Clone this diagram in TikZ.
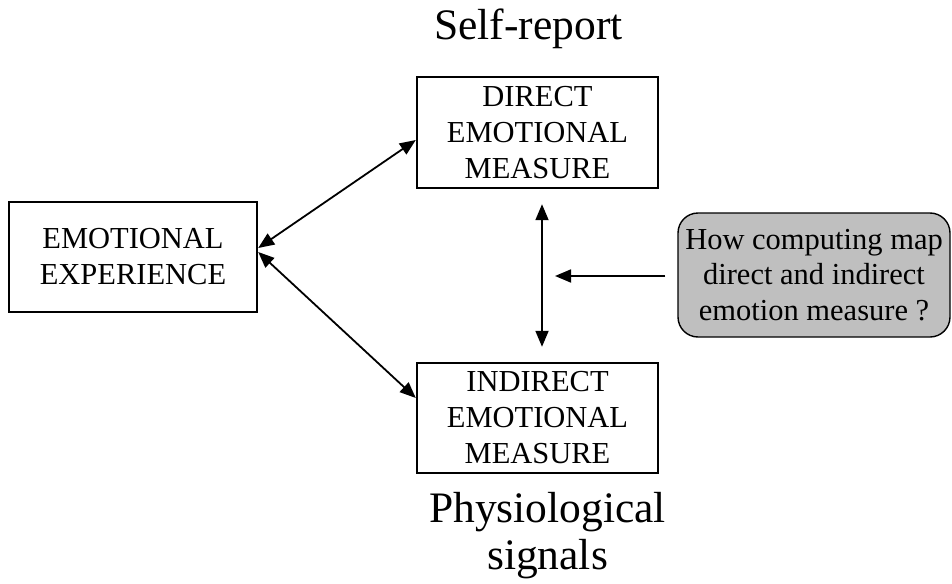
\documentclass[tikz,border=0pt]{standalone}
\usepackage{fontspec}
\setmainfont{Liberation Serif}
\usetikzlibrary{arrows.meta,calc}

\tikzset{
  box/.style={draw, line width=2.4pt, rectangle, align=center, inner sep=0pt,
              font=\fontsize{30.5}{36}\selectfont},
  askbox/.style={draw, line width=1.4pt, fill=black!25, rounded corners=20pt,
                 align=center, inner sep=0pt, font=\fontsize{30.5}{35.5}\selectfont},
  caption/.style={align=center, inner sep=0pt, font=\fontsize{43.5}{47}\selectfont},
  tip/.style={Triangle[length=16pt,width=13pt]},
  link/.style={line width=1.8pt, {Triangle[length=16pt,width=13pt]}-{Triangle[length=16pt,width=13pt]}},
  pointer/.style={line width=1.8pt, -{Triangle[length=16pt,width=13pt]}}
}

\begin{document}
\begin{tikzpicture}[x=1pt,y=-1pt]
  \useasboundingbox (0,0) rectangle (952,583);

  % boxes
  \node[box, minimum width=248pt, minimum height=110pt] (exp) at (133,257)
    {EMOTIONAL\\EXPERIENCE};
  \node[box, minimum width=241pt, minimum height=111pt] (dir) at (537.5,132.5)
    {DIRECT\\EMOTIONAL\\MEASURE};
  \node[box, minimum width=241pt, minimum height=110pt] (ind) at (537.5,418)
    {INDIRECT\\EMOTIONAL\\MEASURE};
  \node[askbox, minimum width=272pt, minimum height=124pt] (ask) at (814,275)
    {How computing map\\direct and indirect\\emotion measure ?};

  % captions
  \node[caption, anchor=base] (self) at (528.5,40) {Self-report};
  \node[caption, anchor=north] (phys) at (547.5,492) {Physiological\\signals};

  % connectors
  \draw[link] ([yshift=9pt]exp.east) -- ([yshift=-7.5pt]dir.west);
  \draw[link] ([yshift=5pt]exp.east) -- ([yshift=20pt]ind.west);
  \draw[link] ([xshift=4.5pt,yshift=-15pt]dir.south) -- ([xshift=4.5pt,yshift=15pt]ind.north);
  \coordinate (gap) at (555,276);
  \draw[pointer] ([xshift=-12pt,yshift=-1pt]ask.west) -- (gap);
\end{tikzpicture}
\end{document}
